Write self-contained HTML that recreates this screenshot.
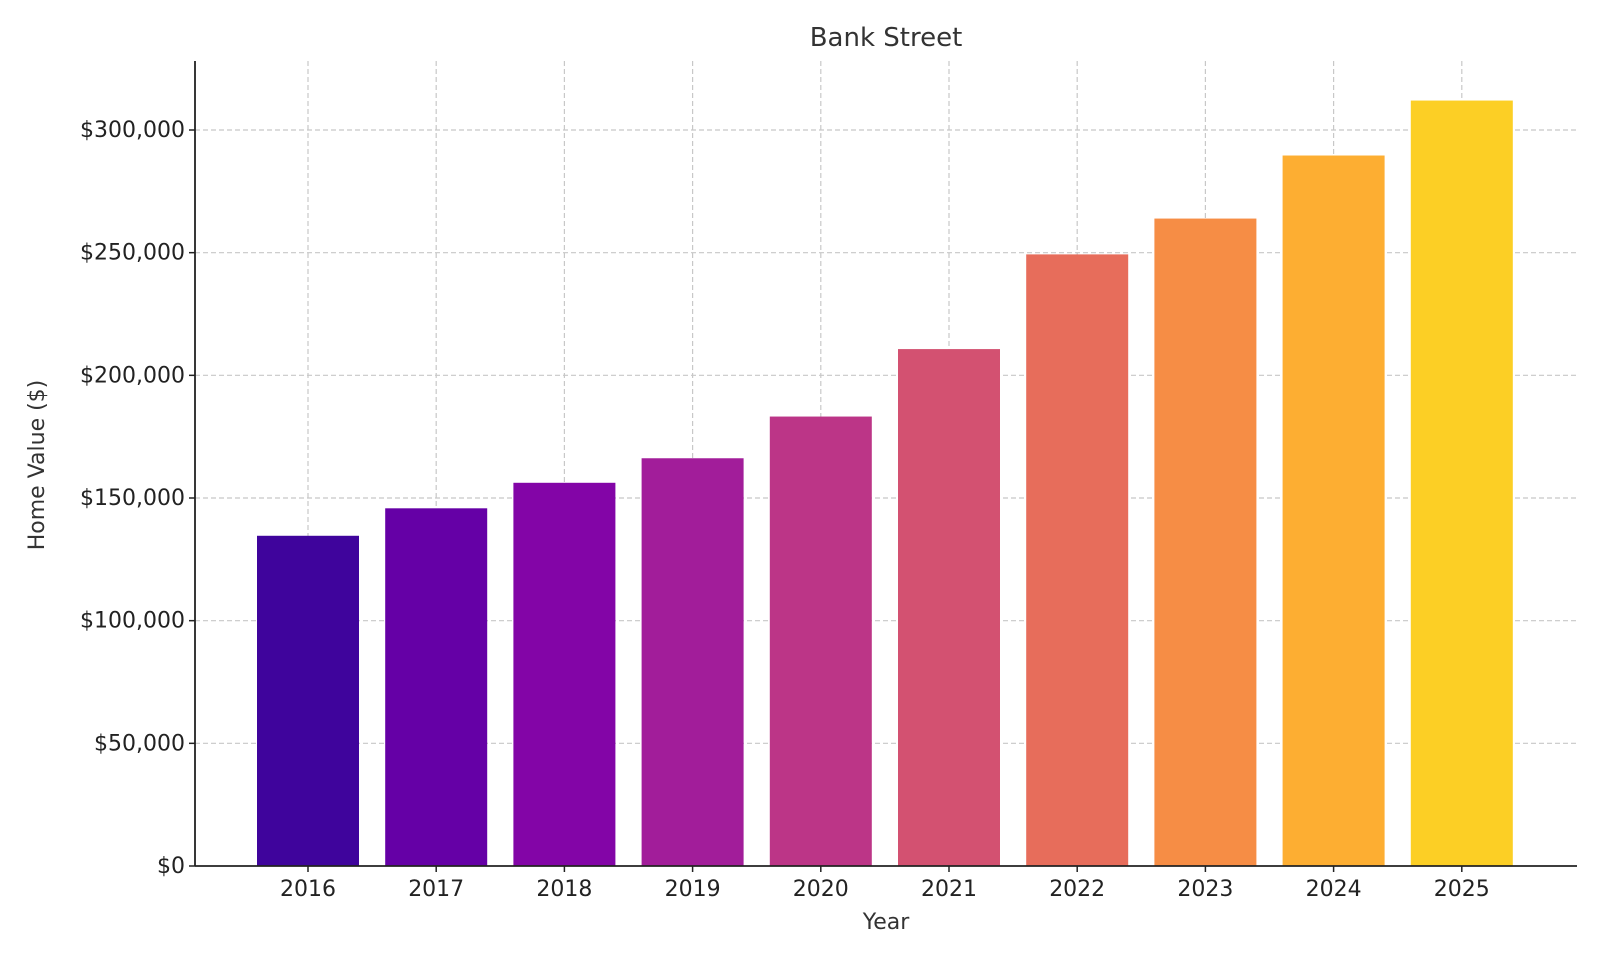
<!DOCTYPE html>
<html><head><meta charset="utf-8"><style>
html,body{margin:0;padding:0;background:#fff;}
svg{display:block;font-family:"DejaVu Sans","Liberation Sans",sans-serif;}
</style></head><body>
<svg id="chart" width="1600" height="960" viewBox="0 0 1600 960" xmlns="http://www.w3.org/2000/svg">
<text x="886" y="46" font-size="26" fill="#333" text-anchor="middle">Bank Street</text>
<text x="886" y="929" font-size="22" fill="#333" text-anchor="middle">Year</text>
<text transform="translate(44,465) rotate(-90)" font-size="22" fill="#333" text-anchor="middle">Home Value ($)</text>
<g id="grid"></g><g id="bars"></g><g id="axes"></g>
</svg>
<script>
const categories = ["2016","2017","2018","2019","2020","2021","2022","2023","2024","2025"];
const values = [134600,145800,156200,166200,183200,210700,249300,263900,289600,312000];
const yTicks = [0,50000,100000,150000,200000,250000,300000];
const yTickLabels = ["$0","$50,000","$100,000","$150,000","$200,000","$250,000","$300,000"];
const colors = ["#3f049c","#6500a6","#8305a7","#a21d9a","#bc3587","#d35171","#e76d5b","#f68d45","#fdae32","#fccf25"];

const NS="http://www.w3.org/2000/svg";
const plotLeft=195,plotRight=1577,plotTop=61,zeroY=866,pxPer=(866-130)/300000;
const step=128.2,firstX=308,barW=102;
function yScale(v){return zeroY-v*pxPer;}
function xScale(i){return firstX+i*step;}
function mk(tag,attrs,parent){const e=document.createElementNS(NS,tag);for(const k in attrs)e.setAttribute(k,attrs[k]);parent.appendChild(e);return e;}
const gridG=document.getElementById('grid'),barsG=document.getElementById('bars'),axesG=document.getElementById('axes');
yTicks.forEach((t,i)=>{
  if(t>0){const l=mk('line',{x1:plotLeft,x2:plotRight,y1:yScale(t),y2:yScale(t),stroke:'#c8c8c8','stroke-width':1.2,'stroke-dasharray':'5,3'},gridG);
  
  }
  const tk=mk('line',{x1:plotLeft-6,x2:plotLeft,y1:yScale(t),y2:yScale(t),stroke:'#222','stroke-width':1.5},axesG);
  
  
  const tx=mk('text',{x:plotLeft-10,y:yScale(t)+7,'font-size':22,fill:'#222','text-anchor':'end'},axesG);
  tx.textContent=yTickLabels[i];
  
  
});
categories.forEach((c,i)=>{
  const gl=mk('line',{x1:xScale(i),x2:xScale(i),y1:plotTop,y2:zeroY,stroke:'#c8c8c8','stroke-width':1.2,'stroke-dasharray':'5,3'},gridG);
  
  
  const r=mk('rect',{x:xScale(i)-barW/2,y:yScale(values[i]),width:barW,height:zeroY-yScale(values[i]),fill:colors[i]},barsG);
  
  
  const tk=mk('line',{x1:xScale(i),x2:xScale(i),y1:zeroY,y2:zeroY+6,stroke:'#222','stroke-width':1.5},axesG);
  
  
  const tx=mk('text',{x:xScale(i),y:zeroY+30,'font-size':22,fill:'#222','text-anchor':'middle'},axesG);
  tx.textContent=c;
  
  
});
const ya=mk('line',{x1:plotLeft,x2:plotLeft,y1:plotTop,y2:zeroY,stroke:'#222','stroke-width':1.8},axesG);


const xa=mk('line',{x1:plotLeft,x2:plotRight,y1:zeroY,y2:zeroY,stroke:'#222','stroke-width':1.8},axesG);


</script>
</body></html>
